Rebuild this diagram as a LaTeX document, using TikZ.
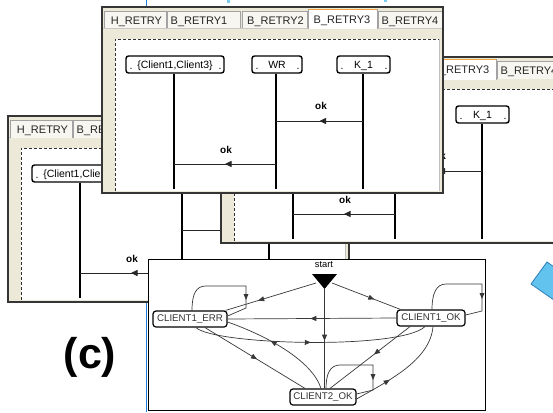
\documentclass[tikz,border=0pt]{standalone}
\usepackage{fontspec}
\setmainfont{Liberation Sans}
\usetikzlibrary{arrows.meta,decorations.markings}
\definecolor{beige}{HTML}{ECE9D8}
\definecolor{tabfill}{HTML}{F7F6F1}
\definecolor{tabline}{HTML}{A2A2A2}
\definecolor{frameline}{HTML}{353535}
\definecolor{selorange}{HTML}{F2A23A}
\definecolor{bluebar}{HTML}{1F7EDB}
\definecolor{lightblue}{HTML}{7CCBF2}
\definecolor{diamondfill}{HTML}{62C4EE}
\definecolor{diamondline}{HTML}{2E7DB8}
\definecolor{edgegray}{HTML}{383838}
\definecolor{dashgray}{HTML}{303030}
\tikzset{
  lifebox/.style={draw, line width=1.4pt, rounded corners=2.5pt, fill=white, minimum height=17pt, inner sep=0pt},
  boxtext/.style={inner sep=0pt, text height=7.6pt, text depth=0pt, font=\fontsize{10.5}{12}\selectfont},
  dotlabel/.style={inner sep=0pt, anchor=base, font=\fontsize{10.5}{12}\selectfont},
  lifeline/.style={line width=1.5pt},
  msg/.style={line width=0.8pt, draw=black!85, postaction=decorate, decoration={markings, mark=at position 0.5 with {\arrow{Triangle[length=6.5pt,width=6pt]}}}},
  msglabel/.style={font=\bfseries\fontsize{10}{12}\selectfont, inner sep=0pt},
  tabbox/.style={draw=tabline, fill=tabfill, line width=0.6pt},
  tabtext/.style={font=\fontsize{11}{13}\selectfont, text=black!85, inner sep=0pt, anchor=base},
  statebox/.style={draw, line width=1.2pt, rounded corners=3pt, fill=white, minimum height=16pt, inner sep=0pt, font=\fontsize{9.7}{11}\selectfont, text=black!80},
  tr/.style={line width=0.7pt, draw=edgegray},
  midarrow/.style={postaction=decorate, decoration={markings, mark=at position #1 with {\arrow{Triangle[length=6pt,width=5pt]}}}},
  looptip/.style={fill=edgegray},
}
% window body (graphics only); texts are added per window, only where visible
\newcommand\retrywin[3]{%
\begin{scope}[shift={(#1,#2)}]
  \fill[beige] (0,0) rectangle (341,186);
  \draw[tabline!60, line width=0.6pt] (0,21.5) -- (341,21.5);
  \foreach \xa/\xb in {2/64,65/138,140/205,276/340}{
    \draw[tabbox] (\xa,21.5) -- (\xa,4) -- (\xb,4) -- (\xb,21.5);
  }
  \fill[white] (206,2) rectangle (275,22.5);
  \draw[tabbox, fill=none] (206,22.5) -- (206,2) -- (275,2) -- (275,22.5);
  \draw[selorange, line width=1.6pt] (206.5,2.6) -- (274.5,2.6);
  \fill[white] (13,32) rectangle (338,184);
  \draw[black!25] (337.5,32) -- (337.5,184);
  \draw[dashgray, line width=0.8pt, dash pattern=on 3pt off 2pt] (13,184) -- (13,32) -- (337,32);
  \draw[frameline, line width=1.3pt] (0,0) rectangle (341,186);
  \node[lifebox, minimum width=98] (#3a) at (73,57.5) {};
  \node[lifebox, minimum width=50] (#3b) at (175,57.5) {};
  \node[lifebox, minimum width=53] (#3c) at (261.5,57.5) {};
  \coordinate (#3la) at (72,182);
  \coordinate (#3lb) at (174,182);
  \coordinate (#3lc) at (261,182);
  \draw[lifeline] (#3a.south -| #3la) -- (#3la);
  \draw[lifeline] (#3b.south -| #3lb) -- (#3lb);
  \draw[lifeline] (#3c.south -| #3lc) -- (#3lc);
  \coordinate (#3m1) at (0,114);
  \coordinate (#3m2) at (0,157);
  \draw[msg] (#3lc |- #3m1) -- (#3lb |- #3m1);
  \draw[msg] (#3lb |- #3m2) -- (#3la |- #3m2);
\end{scope}}
\begin{document}
\begin{tikzpicture}[x=1pt,y=-1pt]
\useasboundingbox (0,0) rectangle (553,412);
\clip (0,0) rectangle (553,412);
\fill[white] (0,0) rectangle (553,412);
% blue background bits
\draw[bluebar, line width=1.8pt] (146.5,0) -- (146.5,412);
\fill[lightblue] (226.5,0) rectangle (229.5,3);
\fill[lightblue] (384,0) rectangle (387,2.5);
% ---- window A (back) ----
\retrywin{8}{116}{wa}
\begin{scope}[shift={(8,116)}]
  \node[tabtext] (watab1) at (34.5,17.3) {H\_RETRY};
  \node[tabtext] (watab2) at (97,17.3) {B\_RETRY1};
  \node[boxtext] (wata) at (73,57.5) {\{Client1,Client3\}};
  \node[dotlabel] (wad1) at (29,62) {.};
  \node[msglabel] (waok2) at (124,143) {ok};
\end{scope}
% ---- window B (middle) ----
\retrywin{221}{57}{wb}
\begin{scope}[shift={(221,57)}]
  \node[tabtext] (wbtabsel) at (240,16.3) {B\_RETRY3};
  \node[tabtext] (wbtab4) at (308,17.3) {B\_RETRY4};
  \node[boxtext] (wbtc) at (261.5,57.5) {K\_1};
  \node[dotlabel] (wbcd1) at (240,62) {.};
  \node[dotlabel] (wbcd2) at (284,62) {.};
  \node[msglabel] (wbok1) at (219,99) {ok};
  \node[msglabel] (wbok2) at (124,143) {ok};
\end{scope}
% ---- window C (front) ----
\retrywin{102}{7}{wc}
\begin{scope}[shift={(102,7)}]
  \node[tabtext] (wctab1) at (34.5,17.3) {H\_RETRY};
  \node[tabtext] (wctab2) at (97,17.3) {B\_RETRY1};
  \node[tabtext] (wctab3) at (173.5,17.3) {B\_RETRY2};
  \node[tabtext] (wctabsel) at (240,16.3) {B\_RETRY3};
  \node[tabtext] (wctab4) at (308,17.3) {B\_RETRY4};
  \node[boxtext] (wcta) at (73,57.5) {\{Client1,Client3\}};
  \node[boxtext] (wctb) at (175,57.5) {WR};
  \node[boxtext] (wctc) at (261.5,57.5) {K\_1};
  \node[dotlabel] (wcad1) at (29,62) {.};
  \node[dotlabel] (wcad2) at (118,62) {.};
  \node[dotlabel] (wcbd1) at (155,62) {.};
  \node[dotlabel] (wcbd2) at (196,62) {.};
  \node[dotlabel] (wccd1) at (240,62) {.};
  \node[dotlabel] (wccd2) at (284,62) {.};
  \node[msglabel] (wcok1) at (219,99) {ok};
  \node[msglabel] (wcok2) at (124,143) {ok};
\end{scope}
% ---- state diagram window ----
\draw[black, line width=0.9pt, fill=white] (148.5,259) rectangle (485,410);
\node[font=\fontsize{9.3}{11}\selectfont, inner sep=0pt] (start) at (324,265) {start};
\fill (312,274) -- (337,274) -- (324.5,289) -- cycle;
\coordinate (stl) at (316,283);
\coordinate (str) at (332,283);
\coordinate (stb) at (324.5,289);
\node[statebox, minimum width=74] (err) at (190,319) {CLIENT1\_ERR};
\node[statebox, minimum width=68] (ok1) at (431,318) {CLIENT1\_OK};
\node[statebox, minimum width=66] (c2) at (323,397) {CLIENT2\_OK};
% transitions
\draw[tr, midarrow=0.64] (stl) -- ([xshift=-2pt]err.north east);
\draw[tr, midarrow=0.62] (str) -- ([xshift=4pt]ok1.north west);
\draw[tr, midarrow=0.52] (stb) -- (c2.north -| stb);
\draw[tr, midarrow=0.51] (ok1.west) -- (err.east);
\draw[tr, midarrow=0.5] ([xshift=6pt]err.south) .. controls (215,345) and (400,350) .. ([xshift=-6pt]ok1.south);
\draw[tr, midarrow=0.52] ([xshift=15pt]err.south) -- ([xshift=-18pt]c2.north);
\draw[tr, midarrow=0.6] ([xshift=-2pt]c2.north) .. controls (312,360) and (265,335) .. ([yshift=-3pt]err.east);
\draw[tr, midarrow=0.45] ([xshift=-21pt]ok1.south) -- ([xshift=7pt]c2.north);
\draw[tr, midarrow=0.35] ([yshift=-2pt]c2.east) .. controls (390,380) and (430,360) .. ([xshift=2pt]ok1.south);
% self loops
\draw[tr] ([xshift=2pt]err.north) .. controls (192,294) and (196,286) .. (206,286) -- (246,286) -- (246,308) -- ([yshift=3pt]err.east);
\fill[looptip] (243.5,294) -- (248.5,294) -- (246,300) -- cycle;
\draw[tr] ([xshift=1pt]ok1.north) .. controls (432,294) and (436,284) .. (446,284) -- (482,284) -- (482,311) -- ([yshift=3pt]ok1.east);
\fill[looptip] (479.5,293) -- (484.5,293) -- (482,299) -- cycle;
\draw[tr] ([xshift=3pt]c2.north) .. controls (326,374) and (330,365) .. (340,365) -- (373,365) -- (373,390) -- ([yshift=3pt]c2.east);
\fill[looptip] (370.5,374) -- (375.5,374) -- (373,380) -- cycle;
% label
\node[font=\bfseries\fontsize{43}{50}\selectfont, inner sep=0pt] (lbl) at (90,357) {(c)};
% blue shape at right edge
\draw[diamondline, fill=diamondfill, line width=0.8pt] (531,284) -- (547,262) -- (580,285) -- (564,307) -- cycle;
\end{tikzpicture}
\end{document}
